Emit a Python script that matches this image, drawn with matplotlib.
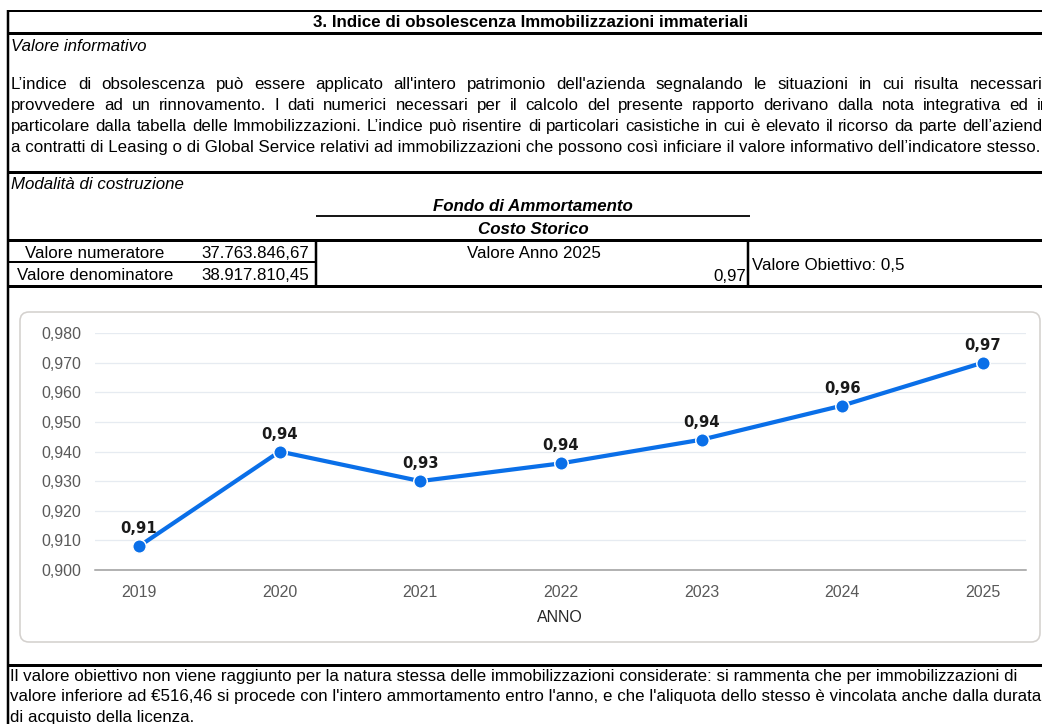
import matplotlib
matplotlib.use("Agg")
import matplotlib.pyplot as plt
from matplotlib.patches import FancyBboxPatch
from matplotlib.ticker import FuncFormatter

# --- dati ---
anni   = ["2019", "2020", "2021", "2022", "2023", "2024", "2025"]
valori = [0.908, 0.940, 0.930, 0.936, 0.944, 0.9555, 0.970]
y_ticks = [0.900, 0.910, 0.920, 0.930, 0.940, 0.950, 0.960, 0.970, 0.980]

titolo = "3. Indice di obsolescenza Immobilizzazioni immateriali"
paragrafo = [
    "L\u2019indice di obsolescenza può essere applicato all'intero patrimonio dell'azienda segnalando le situazioni in cui risulta necessario",
    "provvedere ad un rinnovamento. I dati numerici necessari per il calcolo del presente rapporto derivano dalla nota integrativa ed in",
    "particolare dalla tabella delle Immobilizzazioni. L\u2019indice può risentire di particolari casistiche in cui è elevato il ricorso da parte dell\u2019azienda",
    "a contratti di Leasing o di Global Service relativi ad immobilizzazioni che possono così inficiare il valore informativo dell\u2019indicatore stesso.",
]
nota = [
    "Il valore obiettivo non viene raggiunto per la natura stessa delle immobilizzazioni considerate: si rammenta che per immobilizzazioni di",
    "valore inferiore ad €516,46 si procede con l'intero ammortamento entro l'anno, e che l'aliquota dello stesso è vincolata anche dalla durata",
    "di acquisto della licenza.",
]
num_label, num_val = "Valore numeratore", "37.763.846,67"
den_label, den_val = "Valore denominatore", "38.917.810,45"
anno_label, anno_val = "Valore Anno 2025", "0,97"
obiettivo = "Valore Obiettivo: 0,5"

COLOR_LINE = "#0a6fe8"
COLOR_GRID = "#e6ebf1"
COLOR_TICK = "#595959"
FONT = "Liberation Sans"

W, H = 1042, 724
fig = plt.figure(figsize=(W / 100, H / 100), dpi=100)
fig.patch.set_facecolor("white")

# sfondo a coordinate in pixel, per la griglia stile foglio di calcolo
bg = fig.add_axes([0, 0, 1, 1])
bg.set_xlim(0, W)
bg.set_ylim(H, 0)
bg.axis("off")

def px(w):
    return w * 0.72

def hline(y, x0, x1, w=2):
    bg.plot([x0, x1], [y, y], color="black", lw=px(w), solid_capstyle="butt")

def vline(x, y0, y1, w=2):
    bg.plot([x, x], [y0, y1], color="black", lw=px(w), solid_capstyle="butt")

hline(11, 7, W, 2)
vline(8, 10, H, 2.5)
hline(33, 7, W, 3)
hline(172, 7, W, 3)
hline(216, 316, 750, 1.8)
hline(240, 7, W, 3)
hline(262, 7, 316, 2)
vline(316, 240, 286, 2.5)
vline(748, 240, 286, 2.5)
hline(286, 7, W, 3)
hline(665, 7, W, 3)

fs = 12.2
BASE = 5  # distanza centro riga -> linea di base, in pixel

def txt(x, yc, s, **kw):
    return bg.text(x, yc + BASE, s, fontsize=fs, family=FONT, va="baseline", **kw)

txt(531, 22, titolo, fontweight="bold", ha="center")
txt(11, 46, "Valore informativo", style="italic")

fig.canvas.draw()
renderer = fig.canvas.get_renderer()

def justified(line, yc, x0, x1):
    words = line.split(" ")
    objs, total = [], 0
    for w in words:
        t = txt(0, yc, w, ha="left")
        total += t.get_window_extent(renderer).width
        objs.append(t)
    gap = (x1 - x0 - total) / (len(words) - 1)
    x = x0
    for t in objs:
        t.set_x(x)
        x += t.get_window_extent(renderer).width + gap

par_y = [84, 105, 126, 147]
justified(paragrafo[0], par_y[0], 11, 1052)
justified(paragrafo[1], par_y[1], 11, 1050)
justified(paragrafo[2], par_y[2], 11, 1052)
txt(11, par_y[3], paragrafo[3])

txt(11, 184, "Modalità di costruzione", style="italic")
txt(533, 206, "Fondo di Ammortamento", style="italic", fontweight="bold", ha="center")
txt(533, 229, "Costo Storico", style="italic", fontweight="bold", ha="center")
txt(95, 253, num_label, ha="center")
txt(309, 253, num_val, ha="right")
txt(95, 275, den_label, ha="center")
txt(309, 275, den_val, ha="right")
txt(534, 253, anno_label, ha="center")
txt(746, 276, anno_val, ha="right")
txt(752, 265, obiettivo, ha="left")

for i, riga in enumerate(nota):
    txt(10, 676 + 20.5 * i, riga)

# riquadro del grafico
box = FancyBboxPatch((20, 312), 1020, 330, boxstyle="round,pad=0,rounding_size=9",
                     facecolor="white", edgecolor="#d4d1ce", lw=px(1.6))
bg.add_patch(box)

# --- grafico ---
ax = fig.add_axes([95 / W, (H - 570) / H, (1026 - 95) / W, 237 / H])
ax.set_facecolor("none")
x = list(range(len(anni)))
ax.plot(x, valori, color=COLOR_LINE, lw=px(4.2), marker="o", markersize=px(13.5),
        markerfacecolor=COLOR_LINE, markeredgecolor="white", markeredgewidth=px(1.5),
        solid_joinstyle="round", zorder=3, clip_on=False)
for xi, v in zip(x, valori):
    ax.annotate(f"{v:.2f}".replace(".", ","), (xi, v), xytext=(0, 12.5), textcoords="offset points",
                ha="center", va="center", fontsize=10.6, fontweight="bold", family="DejaVu Sans",
                color="#1a1a1a", zorder=4)

ax.set_xlim(-0.313, 6.306)
ax.set_ylim(0.900, 0.980)
ax.set_yticks(y_ticks)
ax.yaxis.set_major_formatter(FuncFormatter(lambda v, p: f"{v:.3f}".replace(".", ",")))
ax.set_xticks(x)
ax.set_xticklabels(anni)
ax.grid(axis="y", color=COLOR_GRID, lw=px(1.3))
ax.set_axisbelow(True)
for s in ["top", "right", "left"]:
    ax.spines[s].set_visible(False)
ax.spines["bottom"].set_color("#9a9a9a")
ax.spines["bottom"].set_linewidth(px(1.5))
ax.tick_params(axis="both", length=0, labelsize=11.5, labelcolor=COLOR_TICK)
ax.tick_params(axis="y", pad=10)
ax.tick_params(axis="x", pad=11)
for lab in ax.get_xticklabels() + ax.get_yticklabels():
    lab.set_family(FONT)
ax.set_xlabel("ANNO", fontsize=11.5, family=FONT, color="#262626")
ax.xaxis.set_label_coords((560 - 95) / (1026 - 95), -(610 - 570) / 237)

fig.savefig("out.png", dpi=100)
